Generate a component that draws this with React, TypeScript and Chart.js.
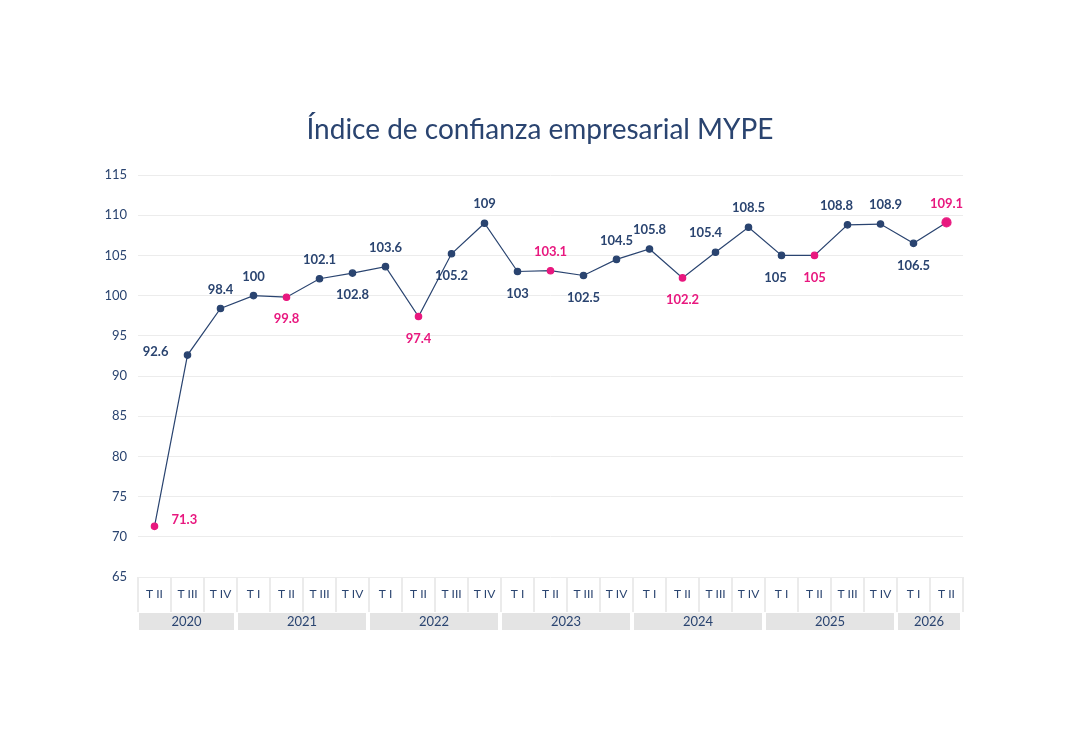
import { useEffect, useRef } from 'react';
import { Chart, registerables } from 'chart.js';

Chart.register(...registerables);

const NAVY = '#2a4470';
const PINK = '#e8187f';
const FONT = 'Lato, "Open Sans", sans-serif';

const quarters = [
  'T II', 'T III', 'T IV',
  'T I', 'T II', 'T III', 'T IV',
  'T I', 'T II', 'T III', 'T IV',
  'T I', 'T II', 'T III', 'T IV',
  'T I', 'T II', 'T III', 'T IV',
  'T I', 'T II', 'T III', 'T IV',
  'T I', 'T II',
];
const years = ['2020', '2021', '2022', '2023', '2024', '2025', '2026'];
const quartersPerYear = [3, 4, 4, 4, 4, 4, 2];
const values = [
  71.3, 92.6, 98.4, 100, 99.8, 102.1, 102.8, 103.6, 97.4, 105.2, 109, 103, 103.1,
  102.5, 104.5, 105.8, 102.2, 105.4, 108.5, 105, 105, 108.8, 108.9, 106.5, 109.1,
];
// where each value label sits relative to its point
const labelPos = [
  'right', 'left', 'above', 'above', 'below', 'above', 'below', 'above', 'below', 'below',
  'above', 'below', 'above', 'below', 'above', 'above', 'below', 'above', 'above', 'below',
  'below', 'above', 'above', 'below', 'above',
];
const labelNudge = [
  0, 0, 0, 0, 0, 0, 0, 0, 0, 0,
  0, 0, 0, 0, 0, 0, 0, -10, 0, -6,
  0, -11, 5, 0, 0,
];
const yTicks = [65, 70, 75, 80, 85, 90, 95, 100, 105, 110, 115];

const isHighlight = (i: number) => quarters[i] === 'T II';
const pointColors = values.map((_, i) => (isHighlight(i) ? PINK : NAVY));
const pointRadii = values.map((_, i) => (i === values.length - 1 ? 4.5 : 3.2));

const decorPlugin = {
  id: 'decor',
  afterDraw(chart: Chart) {
    const { ctx, chartArea, scales } = chart;
    const x = scales.x;
    const y = scales.y;
    const step = x.getPixelForValue(1) - x.getPixelForValue(0);
    ctx.save();

    // title
    ctx.fillStyle = NAVY;
    ctx.font = `400 28px ${FONT}`;
    ctx.textAlign = 'center';
    ctx.textBaseline = 'middle';
    ctx.fillText('Índice de confianza empresarial MYPE', chart.width / 2, 130);

    // quarter cells
    const cellTop = chartArea.bottom;
    const cellBottom = cellTop + 35;
    ctx.strokeStyle = '#ebebeb';
    ctx.lineWidth = 2;
    for (let i = 0; i <= quarters.length; i++) {
      const px = x.getPixelForValue(i) - step / 2;
      ctx.beginPath();
      ctx.moveTo(px, cellTop);
      ctx.lineTo(px, cellBottom);
      ctx.stroke();
    }
    ctx.font = `400 12px ${FONT}`;
    ctx.fillStyle = NAVY;
    quarters.forEach((q, i) => {
      ctx.fillText(q, x.getPixelForValue(i), cellTop + 17);
    });

    // year bands
    let start = 0;
    const bandTop = cellBottom + 1;
    const bandH = 17;
    years.forEach((yr, k) => {
      const n = quartersPerYear[k];
      const x0 = x.getPixelForValue(start) - step / 2 + 1;
      const x1 = x.getPixelForValue(start + n - 1) + step / 2 - 3;
      ctx.fillStyle = '#e4e4e4';
      ctx.fillRect(x0, bandTop, x1 - x0, bandH);
      ctx.fillStyle = NAVY;
      ctx.font = `400 13px ${FONT}`;
      ctx.fillText(yr, (x0 + x1) / 2, bandTop + bandH / 2 + 0.5);
      start += n;
    });

    // value labels
    ctx.font = `700 13px ${FONT}`;
    values.forEach((v, i) => {
      const px = x.getPixelForValue(i);
      const py = y.getPixelForValue(v);
      let lx = px + labelNudge[i];
      let ly = py;
      const pos = labelPos[i];
      if (pos === 'above') ly = py - 19;
      else if (pos === 'below') ly = py + 22;
      else if (pos === 'left') { lx = px - 19; ly = py - 3; ctx.textAlign = 'right'; }
      else if (pos === 'right') { lx = px + 17; ly = py - 7; ctx.textAlign = 'left'; }
      ctx.fillStyle = isHighlight(i) ? PINK : NAVY;
      ctx.fillText(String(v), lx, ly);
      ctx.textAlign = 'center';
    });
    ctx.restore();
  },
};

export default function App() {
  const ref = useRef<HTMLCanvasElement>(null);
  const chartRef = useRef<Chart | null>(null);

  useEffect(() => {
    if (!ref.current) return;
    chartRef.current?.destroy();
    chartRef.current = new Chart(ref.current, {
      type: 'line',
      data: {
        labels: quarters.map((q, i) => `${q}-${i}`),
        datasets: [{
          data: values,
          borderColor: NAVY,
          borderWidth: 1.2,
          pointBackgroundColor: pointColors,
          pointBorderColor: pointColors,
          pointRadius: pointRadii,
          tension: 0,
        }],
      },
      options: {
        responsive: false,
        animation: false,
        layout: { padding: { top: 175, bottom: 157, left: 0, right: 117 } },
        plugins: { legend: { display: false }, tooltip: { enabled: false }, title: { display: false } },
        scales: {
          x: { display: false, offset: true },
          y: {
            min: 65,
            max: 115,
            afterFit: (scale: any) => { scale.width = 138; },
            afterBuildTicks: (scale: any) => { scale.ticks = yTicks.map((v) => ({ value: v })); },
            border: { display: false },
            grid: { color: '#ececec', drawTicks: false, lineWidth: 1 },
            ticks: { color: NAVY, padding: 11, font: { family: FONT, size: 13 } },
          },
        },
      },
      plugins: [decorPlugin],
    });
    return () => { chartRef.current?.destroy(); };
  }, []);

  return (
    <div style={{ position: 'fixed', left: 0, top: 0, width: 1080, height: 734, background: '#fff' }}>
      <canvas ref={ref} width={1080} height={734} />
    </div>
  );
}
